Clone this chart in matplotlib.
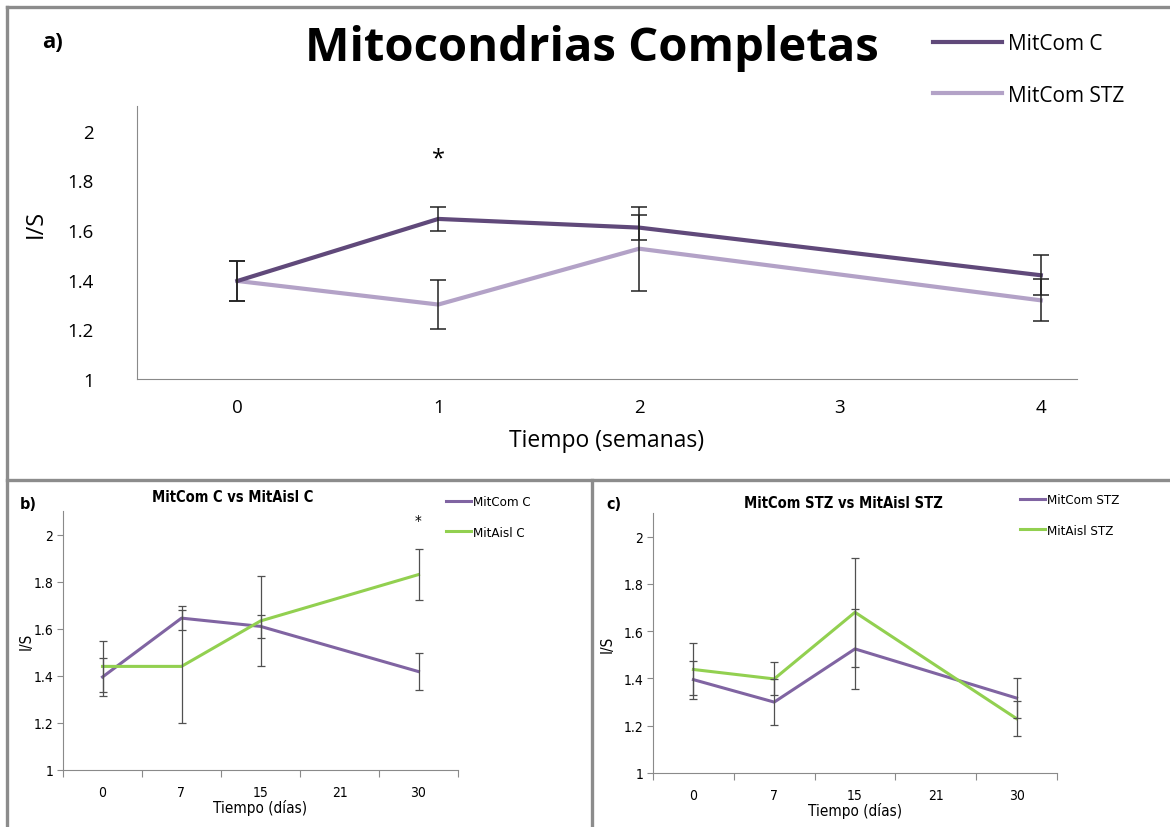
import matplotlib
matplotlib.use("Agg")
import matplotlib.pyplot as plt
from matplotlib.lines import Line2D

## panel a - semanas
weeks = ["0", "1", "2", "3", "4"]
weeks_idx = [0, 1, 2, 4]
mitcom_c = [1.395, 1.645, 1.61, 1.418]
mitcom_c_err = [0.08, 0.05, 0.05, 0.08]
mitcom_stz = [1.395, 1.30, 1.525, 1.317]
mitcom_stz_err = [0.08, 0.097, 0.17, 0.085]

## panels b and c - dias
days = ["0", "7", "15", "21", "30"]
days_idx = [0, 1, 2, 4]
mitaisl_c = [1.44, 1.44, 1.633, 1.83]
mitaisl_c_err = [0.11, 0.24, 0.19, 0.11]
mitaisl_stz = [1.438, 1.398, 1.68, 1.23]
mitaisl_stz_err = [0.11, 0.07, 0.23, 0.075]

DARK = "#60497a"
LIGHT = "#b3a2c7"
PURPLE = "#8064a2"
GREEN = "#92d050"
SPINE = "#8a8a8a"

W, H = 1170, 828
fig = plt.figure(figsize=(W / 100, H / 100), dpi=100)

def px(x0, y0, x1, y1):
    return [x0 / W, 1 - y1 / H, (x1 - x0) / W, (y1 - y0) / H]

## frames round the panels
frame = dict(color="#8c8c8c", lw=2.4, transform=fig.transFigure)
fig.add_artist(Line2D([7 / W, 1], [1 - 8 / H, 1 - 8 / H], **frame))
fig.add_artist(Line2D([7 / W, 7 / W], [0, 1 - 8 / H], **frame))
fig.add_artist(Line2D([7 / W, 1], [1 - 481 / H, 1 - 481 / H], **frame))
fig.add_artist(Line2D([592 / W, 592 / W], [0, 1 - 481 / H], **frame))

# ---- a) ----
big = ["Open Sans", "DejaVu Sans"]
ax = fig.add_axes(px(137, 107, 1077, 380))
la, = ax.plot(weeks_idx, mitcom_c, color=DARK, lw=3, label="MitCom C", zorder=3)
lb, = ax.plot(weeks_idx, mitcom_stz, color=LIGHT, lw=3, label="MitCom STZ", zorder=2)
ax.errorbar(weeks_idx, mitcom_c, yerr=mitcom_c_err, fmt="none", ecolor="#222222",
            elinewidth=1.1, capsize=6, capthick=1.1, zorder=4)
ax.errorbar(weeks_idx, mitcom_stz, yerr=mitcom_stz_err, fmt="none", ecolor="#222222",
            elinewidth=1.1, capsize=6, capthick=1.1, zorder=4)
ax.set_xlim(-0.5, 4.18)
ax.set_ylim(1, 2.1)
ax.set_xticks(range(len(weeks)))
ax.set_xticklabels(weeks, family=big, fontsize=13.5)
ax.set_yticks([1, 1.2, 1.4, 1.6, 1.8, 2])
ax.set_yticklabels(["1", "1.2", "1.4", "1.6", "1.8", "2"], family=big, fontsize=13.5)
ax.tick_params(length=0)
ax.tick_params(axis="y", pad=31)
ax.tick_params(axis="x", pad=14)
for s in ["top", "right"]:
    ax.spines[s].set_visible(False)
for s in ["left", "bottom"]:
    ax.spines[s].set_color(SPINE)
ax.set_xlabel("Tiempo (semanas)", family=big, fontsize=16.5, labelpad=8)
ax.set_ylabel("I/S", family=big, fontsize=17)
ax.yaxis.set_label_coords(-0.095, 0.57)
ax.text(1, 1.89, "*", ha="center", va="center", fontsize=17, family=big)
fig.text(0.5 * (287 + 897) / W, 1 - 49 / H, "Mitocondrias Completas", ha="center",
         va="center", family=big, fontsize=34, fontweight="bold")
fig.text(42 / W, 1 - 42 / H, "a)", ha="left", va="center", family=big,
         fontsize=16, fontweight="bold")
fig.legend(handles=[la, lb], loc="upper left", bbox_to_anchor=(925 / W, 1 - 26 / H),
           frameon=False, prop={"family": big, "size": 15}, handlelength=3.3,
           handletextpad=0.3, labelspacing=1.45, borderaxespad=0)

# ---- b) and c) ----
small = dict(family="DejaVu Sans", stretch="condensed")

def small_panel(box, s1, e1, s2, e2, names, title, tag, tagpos, titlepos, legpos, ylx, star):
    a = fig.add_axes(px(*box))
    l1, = a.plot(days_idx, s1, color=PURPLE, lw=2.2, label=names[0], zorder=2)
    l2, = a.plot(days_idx, s2, color=GREEN, lw=2.2, label=names[1], zorder=3)
    a.errorbar(days_idx, s1, yerr=e1, fmt="none", ecolor="#505050", elinewidth=0.9,
               capsize=3, capthick=0.9, zorder=4)
    a.errorbar(days_idx, s2, yerr=e2, fmt="none", ecolor="#505050", elinewidth=0.9,
               capsize=3, capthick=0.9, zorder=4)
    a.set_xlim(-0.5, 4.5)
    a.set_ylim(1, 2.1)
    a.set_xticks(range(len(days)))
    a.set_xticklabels(days, fontsize=10, **small)
    a.set_xticks([i - 0.5 for i in range(len(days) + 1)], minor=True)
    a.tick_params(axis="x", which="major", length=0, pad=11)
    a.tick_params(axis="x", which="minor", length=5, color=SPINE, width=0.8)
    a.set_yticks([1, 1.2, 1.4, 1.6, 1.8, 2])
    a.set_yticklabels(["1", "1.2", "1.4", "1.6", "1.8", "2"], fontsize=10, **small)
    a.tick_params(axis="y", length=4, color=SPINE, width=0.8, pad=3)
    for s in ["top", "right"]:
        a.spines[s].set_visible(False)
    for s in ["left", "bottom"]:
        a.spines[s].set_color(SPINE)
        a.spines[s].set_linewidth(0.8)
    a.set_xlabel("Tiempo (días)", fontsize=11, labelpad=0, **small)
    a.set_ylabel("I/S", fontsize=11, **small)
    a.yaxis.set_label_coords(ylx, 0.5)
    if star is not None:
        a.text(star[0], star[1], "*", ha="center", va="center", fontsize=11, **small)
    fig.text(titlepos[0] / W, 1 - titlepos[1] / H, title, ha="center", va="center",
             fontsize=10.5, fontweight="bold", **small)
    fig.text(tagpos[0] / W, 1 - tagpos[1] / H, tag, ha="left", va="center",
             fontsize=11.5, fontweight="bold", **small)
    fig.legend(handles=[l1, l2], loc="upper left",
               bbox_to_anchor=(legpos[0] / W, 1 - legpos[1] / H), frameon=False,
               prop=dict(size=9.5, **small), handlelength=1.9,
               handletextpad=0.1, labelspacing=1.35, borderaxespad=0)
    return a

small_panel((63, 512, 458, 771), mitcom_c, mitcom_c_err, mitaisl_c, mitaisl_c_err,
            ["MitCom C", "MitAisl C"], "MitCom C vs MitAisl C", "b)", (20, 505),
            (233, 498), (441, 491), -0.075, (4, 2.056))
small_panel((653, 514, 1057, 774), mitcom_stz, mitcom_stz_err, mitaisl_stz, mitaisl_stz_err,
            ["MitCom STZ", "MitAisl STZ"], "MitCom STZ vs MitAisl STZ", "c)", (606, 505),
            (843, 504), (1015, 489), -0.095, None)

fig.savefig("out.png", dpi=100)
